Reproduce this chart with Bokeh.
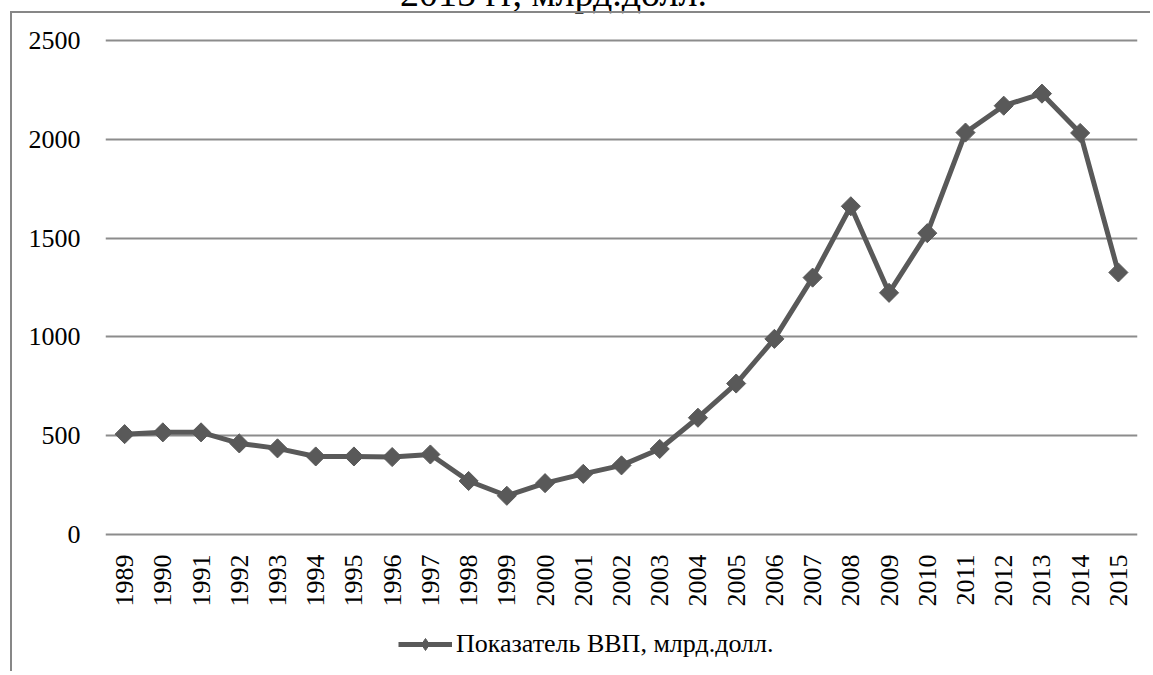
import math
from bokeh.plotting import figure
from bokeh.models import (Range1d, FactorRange, FixedTicker, Legend, LegendItem,
                          Div, ColumnDataSource)
from bokeh.layouts import column
from bokeh.embed import file_html
from bokeh.resources import INLINE

# ---- data -------------------------------------------------------------
years = ["1989", "1990", "1991", "1992", "1993", "1994", "1995", "1996", "1997",
         "1998", "1999", "2000", "2001", "2002", "2003", "2004", "2005", "2006",
         "2007", "2008", "2009", "2010", "2011", "2012", "2013", "2014", "2015"]
gdp = [508, 517, 517, 461, 436, 395, 395, 392, 405,
       271, 196, 260, 307, 350, 433, 591, 764, 990,
       1300, 1661, 1223, 1525, 2034, 2170, 2231, 2032, 1326]
y_ticks = [0, 500, 1000, 1500, 2000, 2500]
series_label = "Показатель ВВП, млрд.долл."
caption_text = "2015 гг, млрд.долл."

FONT = "Liberation Serif"
DARK = "#595959"
GRID = "#8c8c8c"
BORDER = "2px solid #878787"

src = ColumnDataSource(dict(year=years, gdp=gdp))

# ---- main chart ---------------------------------------------------------
p = figure(x_range=FactorRange(factors=years), y_range=Range1d(-10, 2510),
           width=1140, height=600, output_backend="svg", toolbar_location=None,
           min_border_left=93, min_border_right=15, min_border_top=25,
           min_border_bottom=77, margin=(0, 0, 0, 10),
           styles={"border-left": BORDER, "border-top": BORDER})
p.outline_line_color = None
p.background_fill_color = "white"
p.border_fill_color = "white"

p.xgrid.visible = False
p.ygrid.grid_line_color = GRID
p.ygrid.grid_line_width = 2

p.yaxis.ticker = FixedTicker(ticks=y_ticks)
p.yaxis.axis_line_color = None
p.yaxis.major_tick_line_color = None
p.yaxis.minor_tick_line_color = None
p.yaxis.major_tick_out = 0
p.yaxis.major_tick_in = 0
p.yaxis.major_label_standoff = 25
p.yaxis.major_label_text_font = FONT
p.yaxis.major_label_text_font_size = "26px"
p.yaxis.major_label_text_color = "black"

p.xaxis.axis_line_color = None
p.xaxis.major_tick_line_color = None
p.xaxis.minor_tick_line_color = None
p.xaxis.major_tick_out = 0
p.xaxis.major_tick_in = 0
p.xaxis.major_label_orientation = math.pi / 2
p.xaxis.major_label_standoff = 18
p.xaxis.major_label_text_font = FONT
p.xaxis.major_label_text_font_size = "26px"
p.xaxis.major_label_text_color = "black"

p.line(x="year", y="gdp", source=src, line_color=DARK, line_width=5)
p.scatter(x="year", y="gdp", source=src, marker="square", size=13.5,
          angle=math.pi / 4, fill_color=DARK, line_color=DARK)

# ---- legend strip (same series style, separate panel below) -------------
lg = figure(x_range=Range1d(0, 1), y_range=Range1d(0, 1),
            width=1140, height=60, output_backend="svg", toolbar_location=None,
            x_axis_type=None, y_axis_type=None,
            min_border_left=0, min_border_right=0, min_border_top=0,
            min_border_bottom=0, margin=(0, 0, 0, 10),
            styles={"border-left": BORDER})
lg.outline_line_color = None
lg.background_fill_color = "white"
lg.border_fill_color = "white"
key_src = ColumnDataSource(dict(x=[float("nan")], y=[float("nan")]))
lr = lg.line(x="x", y="y", source=key_src, line_color=DARK, line_width=5)
lm = lg.scatter(x="x", y="y", source=key_src, marker="diamond", size=14,
                fill_color=DARK, line_color=DARK)
legend = Legend(items=[LegendItem(label=series_label, renderers=[lr, lm])],
                location=(293, 12), orientation="horizontal",
                border_line_color=None, background_fill_alpha=0,
                padding=0, margin=0, glyph_width=54, glyph_height=30,
                label_standoff=4, label_text_font=FONT,
                label_text_font_size="26px", label_text_color="black")
lg.add_layout(legend)

# ---- clipped caption above the chart border ----------------------------
cap = Div(text=('<div style="padding-left:400px;white-space:nowrap;line-height:38px;'
                'font-family:\'Liberation Serif\';font-size:38px;color:#000">'
                + caption_text + '</div>'),
          width=1140, height=11, margin=0,
          styles={"position": "relative", "top": "-26px", "overflow": "visible"})

layout = column(cap, p, lg, spacing=0)

open("out.html", "w").write(file_html(layout, INLINE))
